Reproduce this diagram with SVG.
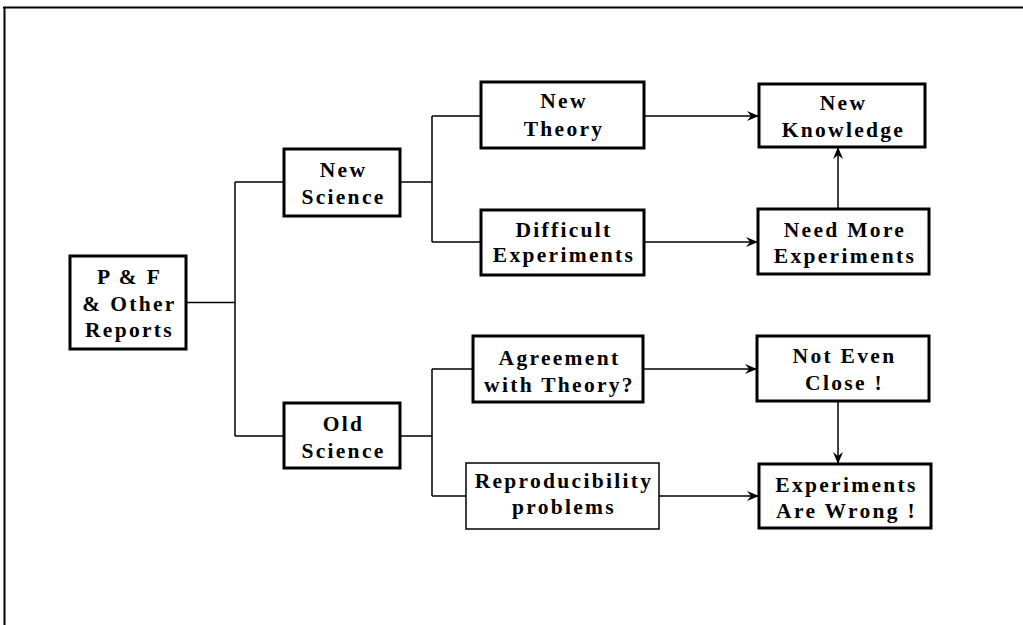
<svg xmlns="http://www.w3.org/2000/svg" width="1023" height="625" viewBox="0 0 1023 625">
<style>
.box{fill:#fff;stroke:#000;stroke-width:3}
.thin{fill:#fff;stroke:#000;stroke-width:1.5}
.c{fill:none;stroke:#000;stroke-width:1.5}
text{font-family:"Liberation Serif","Times New Roman",serif;font-weight:bold;font-size:21.5px;letter-spacing:2.3px;text-anchor:middle;fill:#000}
</style>
<defs>
<marker id="ah" viewBox="0 0 12 10" refX="12" refY="5" markerWidth="12" markerHeight="10" markerUnits="userSpaceOnUse" orient="auto">
<path d="M0,0 L12,5 L0,10 L4,5 z" fill="#000"/>
</marker>
</defs>
<rect width="1023" height="625" fill="#fff"/>
<g id="frame"><path d="M3,7.5 H1023 M4.5,7 V625" fill="none" stroke="#000" stroke-width="2"/></g>
<g id="connectors">
<path class="c" d="M186,302.5 H235 M235,182 V436 M235,182 H284 M235,436 H284"/>
<path class="c" d="M400,182 H432 M432,116 V242 M432,116 H481 M432,242 H481"/>
<path class="c" d="M400,436 H432 M432,369 V496 M432,369 H473 M432,496 H466"/>
<path class="c" d="M644,116 H759" marker-end="url(#ah)"/>
<path class="c" d="M644,242 H758" marker-end="url(#ah)"/>
<path class="c" d="M838,209 V147" marker-end="url(#ah)"/>
<path class="c" d="M643,369 H757" marker-end="url(#ah)"/>
<path class="c" d="M659,496 H759" marker-end="url(#ah)"/>
<path class="c" d="M838,401 V464" marker-end="url(#ah)"/>
</g>
<g id="pf"><rect class="box" x="70" y="256" width="116" height="93"/>
<text x="129.5" y="284">P &amp; F</text><text x="129.5" y="311">&amp; Other</text><text x="129.5" y="337">Reports</text></g>
<g id="newsci"><rect class="box" x="284" y="149" width="116" height="67"/>
<text x="343.5" y="177">New</text><text x="343.5" y="204">Science</text></g>
<g id="oldsci"><rect class="box" x="284" y="403" width="116" height="65"/>
<text x="343.5" y="431">Old</text><text x="343.5" y="458">Science</text></g>
<g id="newtheory"><rect class="box" x="481" y="82" width="163" height="66"/>
<text x="564" y="108">New</text><text x="564" y="136">Theory</text></g>
<g id="difficult"><rect class="box" x="481" y="210" width="163" height="65"/>
<text x="564" y="237">Difficult</text><text x="564" y="262">Experiments</text></g>
<g id="newknow"><rect class="box" x="759" y="84" width="166" height="63"/>
<text x="843.5" y="110">New</text><text x="843.5" y="137">Knowledge</text></g>
<g id="needmore"><rect class="box" x="758" y="209" width="171" height="65"/>
<text x="845" y="237">Need More</text><text x="845" y="263">Experiments</text></g>
<g id="agreement"><rect class="box" x="473" y="336" width="170" height="66"/>
<text x="559.5" y="365">Agreement</text><text x="559.5" y="392">with Theory?</text></g>
<g id="repro"><rect class="thin" x="466" y="463" width="193" height="66"/>
<text x="564" y="488">Reproducibility</text><text x="564" y="514">problems</text></g>
<g id="notclose"><rect class="box" x="757" y="336" width="172" height="65"/>
<text x="844.5" y="363">Not Even</text><text x="844.5" y="390">Close !</text></g>
<g id="wrong"><rect class="box" x="759" y="464" width="172" height="64"/>
<text x="846.5" y="492">Experiments</text><text x="846.5" y="518">Are Wrong !</text></g>
</svg>
